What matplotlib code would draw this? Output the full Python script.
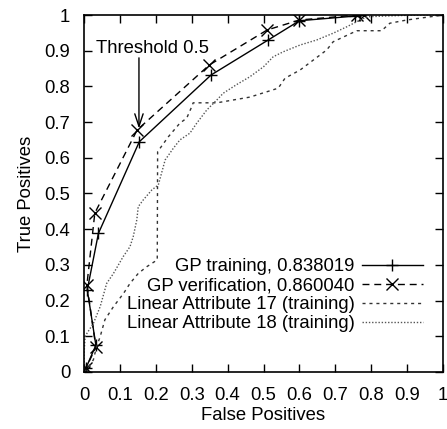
import matplotlib
matplotlib.use("Agg")
import matplotlib.pyplot as plt

plt.rcParams['font.family'] = ['Liberation Sans', 'DejaVu Sans']

# GP ROC points (false positives, true positives)
gp_train_fp = [0.0, 0.005, 0.033, 0.009, 0.04, 0.154, 0.354, 0.513, 0.6, 0.755, 0.77]
gp_train_tp = [0.0, 0.01, 0.075, 0.23, 0.388, 0.645, 0.832, 0.93, 0.984, 0.997, 1.0]

gp_verif_fp = [0.0, 0.005, 0.033, 0.008, 0.03, 0.148, 0.349, 0.51, 0.6, 0.76, 0.78]
gp_verif_tp = [0.0, 0.01, 0.069, 0.244, 0.445, 0.678, 0.86, 0.958, 0.986, 1.0, 1.0]

# linear attribute 17 (training)
attr17_fp = [0.0, 0.007, 0.026, 0.035, 0.045, 0.058, 0.082, 0.11, 0.128, 0.151, 0.175, 0.204,
             0.205, 0.235, 0.267, 0.286, 0.3, 0.304, 0.37, 0.462, 0.541, 0.56, 0.602,
             0.676, 0.694, 0.76, 0.829, 0.852, 0.899, 0.964, 1.0]
attr17_tp = [0.0, 0.006, 0.034, 0.071, 0.099, 0.146, 0.183, 0.22, 0.248, 0.276, 0.295, 0.314,
             0.617, 0.659, 0.697, 0.711, 0.743, 0.754, 0.754, 0.77, 0.795, 0.823, 0.846,
             0.902, 0.925, 0.956, 0.956, 0.977, 0.986, 0.995, 1.0]

# linear attribute 18 (training)
attr18_fp = [0.0, 0.0, 0.003, 0.008, 0.026, 0.045, 0.063, 0.082, 0.109, 0.128, 0.137, 0.147,
             0.151, 0.165, 0.189, 0.207, 0.226, 0.249, 0.267, 0.295, 0.314, 0.342, 0.37,
             0.388, 0.425, 0.462, 0.5, 0.527, 0.555, 0.602, 0.648, 0.694, 0.732, 0.769,
             0.788, 0.834, 0.927, 1.0]
attr18_tp = [0.0, 0.05, 0.099, 0.108, 0.136, 0.183, 0.248, 0.276, 0.323, 0.351, 0.379, 0.426,
             0.463, 0.482, 0.51, 0.524, 0.594, 0.627, 0.65, 0.669, 0.697, 0.734, 0.762,
             0.781, 0.805, 0.827, 0.855, 0.883, 0.897, 0.916, 0.93, 0.949, 0.967, 0.986,
             0.995, 0.997, 1.0, 1.0]

ticks = [0, 0.1, 0.2, 0.3, 0.4, 0.5, 0.6, 0.7, 0.8, 0.9, 1]
tick_labels = ['0', '0.1', '0.2', '0.3', '0.4', '0.5', '0.6', '0.7', '0.8', '0.9', '1']

fig = plt.figure(figsize=(4.47, 4.29), dpi=100)
ax = fig.add_axes([0.188, 0.133, 0.803, 0.832])

ax.plot(gp_train_fp, gp_train_tp, color='black', lw=1.0, marker='+', ms=9, mew=1.0,
        label='GP training, 0.838019')
ax.plot(gp_verif_fp, gp_verif_tp, color='black', lw=1.0, ls=(0, (5, 3.5)), marker='x', ms=8, mew=1.0,
        label='GP verification, 0.860040')
ax.plot(attr17_fp, attr17_tp, color='#333333', lw=1.0, ls=(0, (2.2, 2.8)),
        label='Linear Attribute 17 (training)')
ax.plot(attr18_fp, attr18_tp, color='#555555', lw=1.0, ls=(0, (1, 1.3)),
        label='Linear Attribute 18 (training)')

# threshold annotation
ax.text(0.19, 0.905, 'Threshold 0.5', ha='center', va='center', fontsize=13.3)
ax.annotate('', xy=(0.153, 0.682), xytext=(0.153, 0.88),
            arrowprops=dict(arrowstyle='->,head_length=0.9,head_width=0.3', color='black', lw=1.0,
                            shrinkA=0, shrinkB=0))

ax.set_xlim(0, 1)
ax.set_ylim(0, 1)
ax.set_xticks(ticks)
ax.set_xticklabels(tick_labels)
ax.set_yticks(ticks)
ax.set_yticklabels(tick_labels)
ax.tick_params(direction='in', length=6, width=1.0, top=True, right=True, labelsize=13.3, pad=10)
ax.tick_params(axis='x', pad=11)
for s in ax.spines.values():
    s.set_linewidth(1.2)

ax.set_xlabel('False Positives', fontsize=13.3, labelpad=2)
ax.set_ylabel('True Positives', fontsize=13.3, labelpad=7)

ax.legend(loc='lower right', bbox_to_anchor=(0.944, 0.112), frameon=False, markerfirst=False,
          fontsize=13.3, handlelength=3.3, handletextpad=0.4, labelspacing=0.1,
          borderpad=0.0, borderaxespad=0.0)

fig.savefig('out.png', dpi=100)
